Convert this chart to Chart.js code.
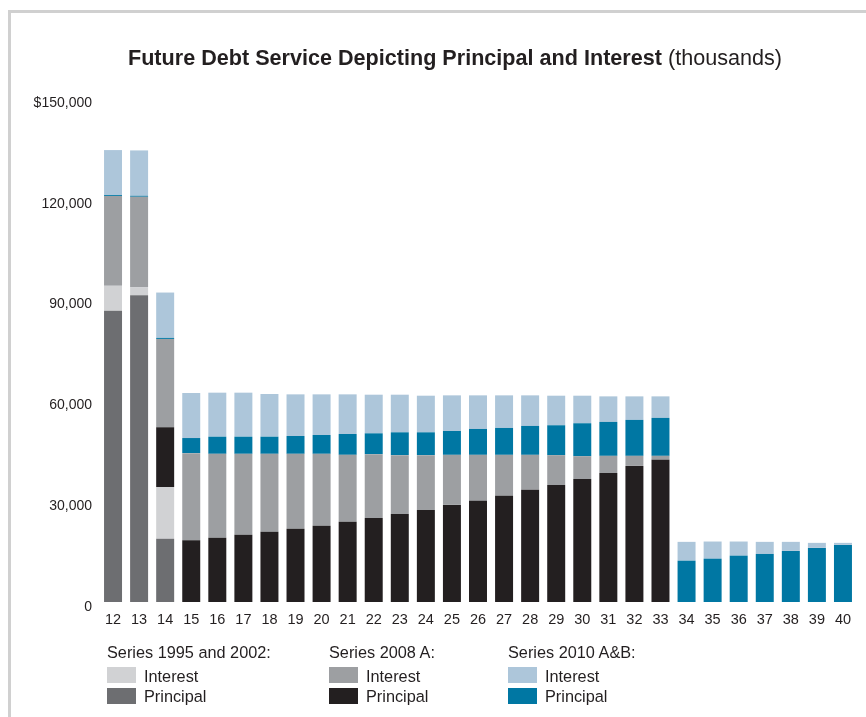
<!DOCTYPE html>
<html>
<head>
<meta charset="utf-8">
<script src="https://cdn.jsdelivr.net/npm/chart.js@4.4.1/dist/chart.umd.min.js"></script>
<style>
  html, body { margin: 0; padding: 0; background: #ffffff; }
  body { width: 866px; height: 717px; position: relative; overflow: hidden;
         font-family: "Liberation Sans", Arial, Helvetica, sans-serif; color: #231f20; }
  #frame { position: absolute; left: 8px; top: 10px; right: 0; bottom: 0;
           border-top: 3px solid #d0d0d0; border-left: 3px solid #d0d0d0; }
  #chartWrap { position: absolute; left: 0; top: 0; width: 866px; height: 717px; }
  #title { position: absolute; left: 0; top: 46px; width: 910px; text-align: center;
           font-size: 21.6px; line-height: 24px; white-space: nowrap; color: #231f20; }
  #title b { font-weight: bold; }
  .lg { position: absolute; font-size: 16.3px; line-height: 18px; white-space: nowrap; color: #231f20; }
  .sw { position: absolute; width: 29px; height: 16px; }
</style>
</head>
<body>
<div id="frame"></div>
<div id="chartWrap"><canvas id="c" width="866" height="717" style="width:866px;height:717px"></canvas></div>
<div id="title"><b>Future Debt Service Depicting Principal and Interest</b> (thousands)</div>
<div id="legend"></div>
<script>
// ---- data (thousands of dollars) ----
const years = ['12','13','14','15','16','17','18','19','20','21','22','23','24','25','26','27','28','29','30','31','32','33','34','35','36','37','38','39','40'];
const principal1995 = [86700, 91300, 18800, 0,0,0,0,0,0,0,0,0,0,0,0,0,0,0,0,0,0,0,0,0,0,0,0,0,0];
const interest1995  = [7400, 2400, 15400, 0,0,0,0,0,0,0,0,0,0,0,0,0,0,0,0,0,0,0,0,0,0,0,0,0,0];
const principal2008 = [0, 0, 17800, 18400, 19100, 20000, 20900, 21800, 22700, 23900, 25000, 26200, 27400, 28900, 30100, 31600, 33400, 34800, 36600, 38400, 40500, 42300, 0,0,0,0,0,0,0];
const interest2008  = [26700, 26900, 26300, 25900, 25000, 24100, 23200, 22300, 21400, 19900, 19000, 17500, 16300, 14900, 13700, 12200, 10400, 8900, 6800, 5100, 3000, 1200, 0,0,0,0,0,0,0];
const principal2010 = [300, 300, 300, 4500, 5100, 5100, 5100, 5300, 5600, 6200, 6200, 6800, 6800, 7100, 7700, 8000, 8600, 8900, 9800, 10100, 10700, 11300, 12300, 12900, 13800, 14300, 15200, 16100, 17000];
const interest2010  = [13400, 13500, 13500, 13400, 13100, 13100, 12700, 12400, 12100, 11800, 11500, 11200, 10900, 10600, 10000, 9700, 9100, 8800, 8200, 7600, 7000, 6400, 5600, 5100, 4200, 3600, 2700, 1500, 600];
const yTicks = [0, 30000, 60000, 90000, 120000, 150000];
const yTickLabels = ['0', '30,000', '60,000', '90,000', '120,000', '$150,000'];

const legendGroups = ['Series 1995 and 2002:', 'Series 2008 A:', 'Series 2010 A&B:'];
const legendItems = ['Interest', 'Principal'];

// ---- styles ----
const colors = {
  i95: '#d1d2d4', p95: '#6d6e71',
  i08: '#9d9fa2', p08: '#231f20',
  i10: '#adc6da', p10: '#0077a3'
};

function ds(label, data, color) {
  return { label, data, backgroundColor: color, borderWidth: 0,
           categoryPercentage: 1.0, barPercentage: 0.69, stack: 's' };
}

new Chart(document.getElementById('c'), {
  type: 'bar',
  data: {
    labels: years,
    datasets: [
      ds('Series 1995 and 2002 Principal', principal1995, colors.p95),
      ds('Series 1995 and 2002 Interest', interest1995, colors.i95),
      ds('Series 2008 A Principal', principal2008, colors.p08),
      ds('Series 2008 A Interest', interest2008, colors.i08),
      ds('Series 2010 A&B Principal', principal2010, colors.p10),
      ds('Series 2010 A&B Interest', interest2010, colors.i10)
    ]
  },
  options: {
    responsive: false,
    animation: false,
    devicePixelRatio: 1,
    layout: { padding: { left: 0, right: 10, top: 98, bottom: 85 } },
    plugins: { legend: { display: false }, tooltip: { enabled: false }, title: { display: false } },
    scales: {
      x: {
        stacked: true,
        offset: true,
        grid: { display: false, drawTicks: false },
        border: { display: false },
        ticks: { color: '#231f20', padding: 9, maxRotation: 0, autoSkip: false,
                 font: { family: '"Liberation Sans", Arial, sans-serif', size: 14.5 } },
        afterFit: (s) => { s.height = 30; }
      },
      y: {
        stacked: true,
        min: 0, max: 150000,
        grid: { display: false, drawTicks: false },
        border: { display: false },
        afterBuildTicks: (s) => { s.ticks = yTicks.map(v => ({ value: v })); },
        ticks: {
          color: '#231f20', padding: 8, labelOffset: 5,
          font: { family: '"Liberation Sans", Arial, sans-serif', size: 14 },
          callback: (v) => { const i = yTicks.indexOf(v); return i >= 0 ? yTickLabels[i] : ''; }
        },
        afterFit: (s) => { s.width = 100; }
      }
    }
  }
});

// ---- HTML legend ----
const legend = document.getElementById('legend');
const groupX = [107, 329, 508];
const swColors = [[colors.i95, colors.p95], [colors.i08, colors.p08], [colors.i10, colors.p10]];
legendGroups.forEach((g, gi) => {
  const x = groupX[gi];
  const h = document.createElement('div');
  h.className = 'lg'; h.style.left = x + 'px'; h.style.top = '643px'; h.textContent = g;
  legend.appendChild(h);
  legendItems.forEach((it, ii) => {
    const sw = document.createElement('div');
    sw.className = 'sw'; sw.style.left = x + 'px'; sw.style.top = (667 + ii * 21) + 'px';
    sw.style.background = swColors[gi][ii];
    legend.appendChild(sw);
    const t = document.createElement('div');
    t.className = 'lg'; t.style.left = (x + 37) + 'px'; t.style.top = (667 + ii * 20) + 'px';
    t.textContent = it;
    legend.appendChild(t);
  });
});
</script>
</body>
</html>
